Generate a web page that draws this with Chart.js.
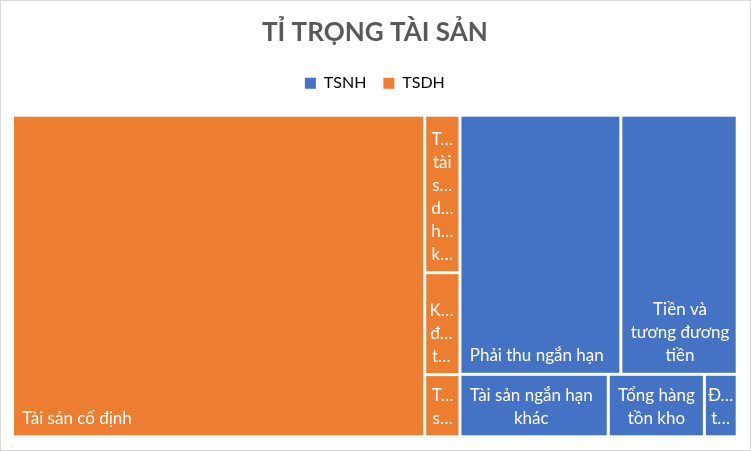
<!DOCTYPE html>
<html>
<head>
<meta charset="utf-8">
<script src="https://cdn.jsdelivr.net/npm/chart.js@4.4.0/dist/chart.umd.min.js"></script>
<style>
  html, body { margin: 0; padding: 0; background: #fff; }
  #wrap { position: relative; width: 751px; height: 451px; }
  #chart { display: block; }
  #frame { position: absolute; left: 0; top: 0; width: 751px; height: 451px; box-sizing: border-box; border: 1px solid #d9d9d9; pointer-events: none; }
</style>
</head>
<body>
<div id="wrap"><canvas id="chart" width="751" height="451"></canvas><div id="frame"></div></div>
<script>
// groups (legend order) and their colours
const groupNames = ['TSNH', 'TSDH'];
const groupColors = ['#4472C4', '#ED7D31'];

// leaf cells of the treemap
const itemLabels = [
    'Tài sản cố định',
    'Tổng tài sản dài hạn khác',
    'Khoản đầu tư tài chính dài hạn',
    'Tài sản dở dang dài hạn',
    'Phải thu ngắn hạn',
    'Tiền và tương đương tiền',
    'Tài sản ngắn hạn khác',
    'Tổng hàng tồn kho',
    'Đầu tư tài chính ngắn hạn'
];
const itemGroups = ['TSDH', 'TSDH', 'TSDH', 'TSDH', 'TSNH', 'TSNH', 'TSNH', 'TSNH', 'TSNH'];
const itemValues = [5690, 238, 154, 94, 1789, 1294, 398, 258, 88];

const FONT = 'Lato, "Open Sans", sans-serif';

// squarified layout, a bit lenient so rows can take one more cell (like Excel)
const ROW_TOLERANCE = 1.3;

function worst(row, side) {
    const sum = row.reduce((s, n) => s + n.area, 0);
    const max = Math.max(...row.map(n => n.area));
    const min = Math.min(...row.map(n => n.area));
    return Math.max(side * side * max / (sum * sum), (sum * sum) / (side * side * min));
}

function squarify(nodes, rect, out) {
    let rest = nodes.slice().sort((a, b) => b.area - a.area);
    let r = { ...rect };
    while (rest.length) {
        const side = Math.min(r.w, r.h);
        let row = [rest[0]];
        let i = 1;
        while (i < rest.length) {
            const next = row.concat([rest[i]]);
            if (worst(next, side) > worst(row, side) * ROW_TOLERANCE) break;
            row = next;
            i++;
        }
        rest = rest.slice(i);
        const sum = row.reduce((s, n) => s + n.area, 0);
        if (r.w >= r.h) {
            const cw = sum / r.h;
            let yy = r.y;
            row.forEach(n => { const hh = n.area / cw; out.push({ node: n, x: r.x, y: yy, w: cw, h: hh }); yy += hh; });
            r = { x: r.x + cw, y: r.y, w: r.w - cw, h: r.h };
        } else {
            const rh = sum / r.w;
            let xx = r.x;
            row.forEach(n => { const ww = n.area / rh; out.push({ node: n, x: xx, y: r.y, w: ww, h: rh }); xx += ww; });
            r = { x: r.x, y: r.y + rh, w: r.w, h: r.h - rh };
        }
    }
    return out;
}

// returns one rect per value, in 0..1 units of both axes
function layoutTreemap(values, groups, pxW, pxH) {
    const total = values.reduce((s, v) => s + v, 0);
    const k = pxW * pxH / total;
    const groupNodes = groupNames.map(g => {
        const children = values.map((v, i) => ({ index: i, area: v * k })).filter(c => groups[c.index] === g);
        return { name: g, children, area: children.reduce((s, c) => s + c.area, 0) };
    });
    const result = [];
    squarify(groupNodes, { x: 0, y: 0, w: pxW, h: pxH }, []).forEach(gr => {
        squarify(gr.node.children, gr, []).forEach(c => {
            result[c.node.index] = { x: c.x / pxW, y: c.y / pxH, w: c.w / pxW, h: c.h / pxH };
        });
    });
    return result;
}

function fitText(ctx, text, maxW, forceDots) {
    if (!forceDots && ctx.measureText(text).width <= maxW) return text;
    for (let n = text.length - (forceDots ? 0 : 1); n > 1; n--) {
        const t = text.slice(0, n).trimEnd() + '…';
        if (ctx.measureText(t).width <= maxW) return t;
    }
    return text[0] + '…';
}

class TreemapCell extends Chart.Element {
    static id = 'treemapCell';
    static defaults = {};

    draw(ctx) {
        const { x, y, width, height, options, label } = this;
        const b = options.borderWidth;
        const ix = x + b, iy = y + b, iw = width - 2 * b, ih = height - 2 * b;
        ctx.save();
        ctx.fillStyle = options.backgroundColor;
        ctx.fillRect(ix, iy, iw, ih);
        ctx.beginPath();
        ctx.rect(ix, iy, iw, ih);
        ctx.clip();

        const lineH = 23;
        ctx.font = '17px ' + FONT;
        ctx.fillStyle = options.color;
        ctx.textBaseline = 'middle';
        const maxW = iw - 12.5;
        const words = label.split(' ');
        let lines = [];
        let cur = '';
        words.forEach(w => {
            if (!cur) cur = w;
            else if (ctx.measureText(cur + ' ' + w).width <= maxW) cur += ' ' + w;
            else { lines.push(cur); cur = w; }
        });
        if (cur) lines.push(cur);
        lines = lines.map(l => fitText(ctx, l, maxW, false));
        const maxLines = Math.max(1, Math.floor((ih - 10) / lineH));
        if (lines.length > maxLines) {
            lines = lines.slice(0, maxLines);
            const last = lines[maxLines - 1].replace(/…$/, '');
            lines[maxLines - 1] = fitText(ctx, last, maxW, true);
        }
        const blockW = Math.max(...lines.map(l => ctx.measureText(l).width));
        const left = ix + Math.max(2, Math.min(8.3, iw - blockW - 5));
        const lastY = iy + ih - 17;
        lines.forEach((l, i) => {
            const lw = ctx.measureText(l).width;
            ctx.fillText(l, left + (blockW - lw) / 2, lastY - (lines.length - 1 - i) * lineH);
        });
        ctx.restore();
    }
}

class TreemapController extends Chart.DatasetController {
    static id = 'treemap';
    static defaults = { dataElementType: 'treemapCell', datasetElementType: false };
    static overrides = {
        scales: {
            x: { type: 'linear', min: 0, max: 1, display: false },
            y: { type: 'linear', min: 0, max: 1, reverse: true, display: false }
        }
    };

    update(mode) {
        const meta = this._cachedMeta;
        this.updateElements(meta.data, 0, meta.data.length, mode);
    }

    updateElements(cells, start, count) {
        const { xScale, yScale } = this._cachedMeta;
        const ds = this.getDataset();
        const rects = layoutTreemap(ds.data, ds.groups, xScale.width, yScale.height);
        for (let i = start; i < start + count; i++) {
            const r = rects[i];
            const left = xScale.getPixelForValue(r.x);
            const right = xScale.getPixelForValue(r.x + r.w);
            const top = yScale.getPixelForValue(r.y);
            const bottom = yScale.getPixelForValue(r.y + r.h);
            this.updateElement(cells[i], i, {
                x: left, y: top, width: right - left, height: bottom - top,
                label: ds.labels[i],
                options: {
                    backgroundColor: groupColors[groupNames.indexOf(ds.groups[i])],
                    borderWidth: ds.borderWidth,
                    color: ds.color
                }
            }, 'none');
        }
    }
}

Chart.register(TreemapController, TreemapCell);

new Chart(document.getElementById('chart'), {
    type: 'treemap',
    data: {
        datasets: [{
            data: itemValues,
            labels: itemLabels,
            groups: itemGroups,
            borderWidth: 1.5,
            color: '#ffffff'
        }]
    },
    options: {
        responsive: false,
        animation: false,
        devicePixelRatio: 1,
        layout: { padding: { left: 12.5, right: 13.8, bottom: 14.2, top: 0 } },
        scales: {
            // hidden axis on top, only used as the gap under the legend
            x: {
                type: 'linear', min: 0, max: 1, position: 'top', display: true,
                grid: { display: false }, ticks: { display: false }, border: { display: false },
                afterFit: (scale) => { scale.height = 14; }
            },
            y: { type: 'linear', min: 0, max: 1, reverse: true, display: false }
        },
        plugins: {
            title: {
                display: true,
                text: 'TỈ TRỌNG TÀI SẢN',
                color: '#595959',
                font: { family: FONT, size: 26, weight: 'bold' },
                padding: { top: 17, bottom: 10 }
            },
            legend: {
                display: true,
                position: 'top',
                labels: {
                    boxWidth: 11,
                    boxHeight: 11,
                    padding: 17,
                    color: '#595959',
                    font: { family: FONT, size: 16 },
                    generateLabels: () => groupNames.map((g, i) => ({
                        text: g, fillStyle: groupColors[i], strokeStyle: groupColors[i],
                        lineWidth: 0, hidden: false, datasetIndex: 0
                    }))
                }
            },
            tooltip: { enabled: false }
        }
    }
});
</script>
</body>
</html>
